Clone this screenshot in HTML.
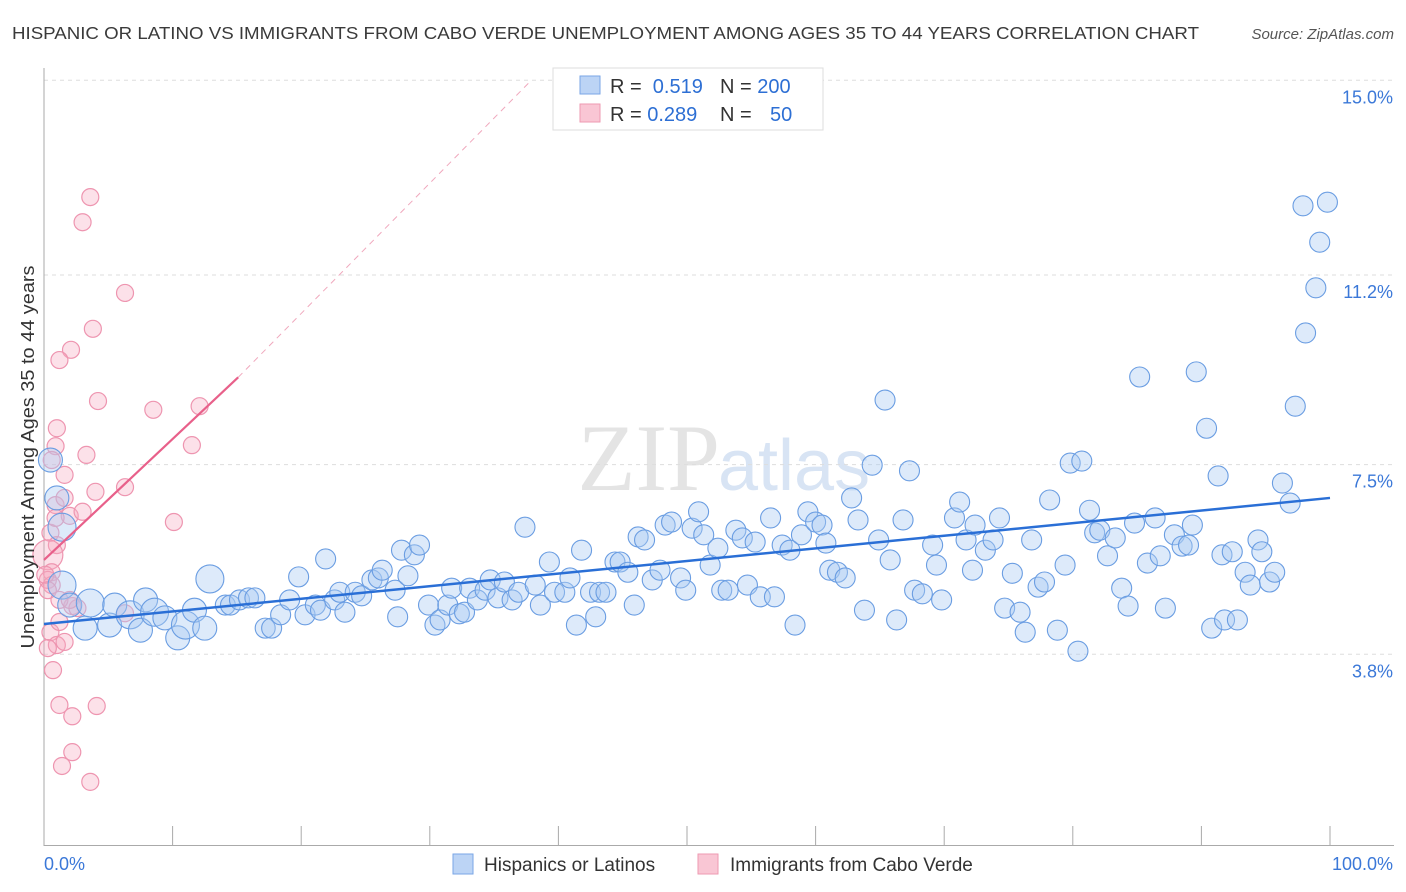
<!DOCTYPE html>
<html><head><meta charset="utf-8"><style>
body{margin:0;background:#fff;font-family:"Liberation Sans",sans-serif}
svg{display:block}
</style></head><body>
<svg id="c" width="1406" height="892">
<text x="12" y="39" font-size="17.5" fill="#3a3a3a" textLength="1187" lengthAdjust="spacingAndGlyphs">HISPANIC OR LATINO VS IMMIGRANTS FROM CABO VERDE UNEMPLOYMENT AMONG AGES 35 TO 44 YEARS CORRELATION CHART</text>
<text x="1394" y="39" font-size="15" fill="#555" font-style="italic" text-anchor="end">Source: ZipAtlas.com</text>
<text x="720" y="490" font-size="95" fill="#e4e4e4" text-anchor="end" font-family="Liberation Serif,serif">ZIP</text>
<text x="718" y="490" font-size="72" fill="#d8e4f4">atlas</text>
<g id="grid"></g><g id="pts"></g><g id="lines"></g>
<text transform="translate(34,457) rotate(-90)" font-size="18" fill="#333" text-anchor="middle" textLength="383" lengthAdjust="spacingAndGlyphs">Unemployment Among Ages 35 to 44 years</text>
<g>
<rect x="553" y="68" width="270" height="62" fill="#fff" stroke="#ddd"/>
<rect x="580" y="76" width="20" height="18" fill="#bcd4f5" stroke="#7aa6e6"/>
<rect x="580" y="104" width="20" height="18" fill="#f9c6d4" stroke="#ee9ab2"/>
<text x="610" y="93" font-size="20" fill="#333">R = <tspan fill="#2d6fd4">&#160;0.519</tspan><tspan x="720">N = </tspan><tspan fill="#2d6fd4">200</tspan></text>
<text x="610" y="121" font-size="20" fill="#333">R = <tspan fill="#2d6fd4">0.289</tspan><tspan x="720">N = </tspan><tspan fill="#2d6fd4" x="770">50</tspan></text>
</g>
<g>
<rect x="453" y="854" width="20" height="20" fill="#bcd4f5" stroke="#7aa6e6"/>
<text x="484" y="871" font-size="19" fill="#333">Hispanics or Latinos</text>
<rect x="698" y="854" width="20" height="20" fill="#f9c6d4" stroke="#ee9ab2"/>
<text x="730" y="871" font-size="19" fill="#333">Immigrants from Cabo Verde</text>
</g>
</svg>
<script>
const blueX=[1.4,0.5,1.0,1.4,2.0,3.2,3.6,5.1,5.5,6.7,7.5,7.9,8.6,9.4,10.4,11.0,11.7,12.5,12.9,14.1,14.5,15.2,15.9,16.4,17.2,17.7,18.4,19.1,19.8,20.3,21.1,21.5,21.9,22.6,23.0,23.4,24.2,24.7,25.5,26.0,26.3,27.3,27.5,28.3,27.8,28.8,29.2,29.9,30.4,30.8,31.4,31.7,32.3,32.7,33.1,33.7,34.3,34.7,35.3,35.8,36.4,36.9,37.4,38.2,38.6,39.3,39.7,40.5,40.9,41.4,41.8,42.5,42.9,43.2,43.7,44.4,44.8,45.4,45.9,46.2,46.7,47.3,47.9,48.3,48.8,49.5,49.9,50.4,50.9,51.3,51.8,52.4,52.7,53.2,53.8,54.3,54.7,55.3,55.7,56.5,56.8,57.4,58.0,58.4,58.9,59.4,60.0,60.5,60.8,61.1,61.7,62.3,62.8,63.3,63.8,64.4,64.9,65.4,65.8,66.3,66.8,67.3,67.7,68.3,69.1,69.4,69.8,70.8,71.2,71.7,72.2,72.4,73.2,73.8,74.3,74.7,75.3,75.9,76.3,76.8,77.3,77.8,78.2,78.8,79.4,79.8,80.4,80.7,81.3,81.7,82.1,82.7,83.3,83.8,84.3,84.8,85.2,85.8,86.4,86.8,87.2,87.9,88.5,89.0,89.3,89.6,90.4,90.8,91.3,91.6,91.8,92.4,92.8,93.4,93.8,94.4,94.7,95.3,95.7,96.3,96.9,97.3,98.1,98.9,99.2,97.9,99.8];
const blueY=[5.15,7.59,6.85,6.28,4.76,4.31,4.80,4.37,4.76,4.57,4.27,4.86,4.62,4.51,4.12,4.37,4.66,4.31,5.27,4.76,4.76,4.86,4.90,4.90,4.31,4.31,4.57,4.86,5.31,4.57,4.76,4.66,5.66,4.86,5.01,4.62,5.01,4.94,5.25,5.29,5.44,5.05,4.53,5.33,5.83,5.74,5.93,4.76,4.37,4.47,4.76,5.09,4.59,4.62,5.09,4.86,5.05,5.25,4.90,5.21,4.86,5.01,6.28,5.15,4.76,5.60,5.01,5.01,5.29,4.37,5.83,5.01,4.53,5.01,5.01,5.60,5.60,5.40,4.76,6.09,6.03,5.25,5.44,6.32,6.38,5.29,5.05,6.26,6.58,6.13,5.54,5.87,5.05,5.05,6.22,6.07,5.15,5.99,4.92,6.46,4.92,5.93,5.83,4.37,6.13,6.58,6.38,6.32,5.97,5.44,5.40,5.29,6.85,6.42,4.66,7.49,6.03,8.76,5.64,4.47,6.42,7.38,5.05,4.98,5.93,5.54,4.86,6.46,6.77,6.03,5.44,6.32,5.83,6.03,6.46,4.70,5.38,4.62,4.23,6.03,5.11,5.21,6.81,4.27,5.54,7.53,3.86,7.57,6.61,6.17,6.22,5.72,6.07,5.09,4.74,6.36,9.21,5.58,6.46,5.72,4.70,6.13,5.91,5.93,6.32,9.31,8.21,4.31,7.28,5.74,4.47,5.80,4.47,5.40,5.15,6.03,5.80,5.21,5.40,7.14,6.75,8.64,10.07,10.95,11.84,12.55,12.62];
const pinkX=[3.6,3.0,6.3,3.8,2.1,1.2,4.2,1.0,8.5,12.1,11.5,0.9,3.3,1.6,4.0,6.3,0.9,1.6,2.0,3.0,10.1,0.5,1.0,0.3,0.6,0.3,0.6,2.2,2.6,6.3,0.5,1.0,0.3,1.6,0.7,1.2,2.2,4.1,2.2,1.4,3.6,1.2,0.9,0.1,0.3,1.2,0.6,2.0];
const pinkY=[12.72,12.23,10.85,10.15,9.74,9.54,8.74,8.21,8.57,8.64,7.88,7.86,7.69,7.30,6.97,7.06,6.71,6.85,6.50,6.58,6.38,6.17,5.93,5.74,5.40,5.25,5.15,4.74,4.70,4.60,4.23,3.98,3.92,4.04,3.49,2.81,2.59,2.79,1.89,1.62,1.31,4.43,6.46,5.35,5.05,4.86,7.59,4.86];
const yTicks=[3.8,7.5,11.2,15.0];
const yTickLabels=["3.8%","7.5%","11.2%","15.0%"];
const xTicks=[0,10,20,30,40,50,60,70,80,90,100];
const blueTrend=[4.39,6.85];
const pinkTrend=[5.64,0.236];
const NS="http://www.w3.org/2000/svg";
const L=44,R=1330,B=849;
const sx=v=>L+(R-L)*v/100;
const sy=v=>B-v*51.25;
function mk(t,a,p){const e=document.createElementNS(NS,t);for(const k in a)e.setAttribute(k,a[k]);p.appendChild(e);return e;}
const g=document.getElementById('grid');
yTicks.forEach((t,i)=>{
 const ln=mk('line',{x1:L,x2:1394,y1:sy(t),y2:sy(t),stroke:'#ddd','stroke-dasharray':'4,4'},g);
 
 
 const tx=mk('text',{x:1393,y:sy(t)+23,'font-size':18,fill:'#3b78d8','text-anchor':'end'},g);
 tx.textContent=yTickLabels[i];
 
 
});
const ax=mk('line',{x1:L,x2:L,y1:68,y2:846,stroke:'#aaa'},g);


const bx=mk('line',{x1:L,x2:1394,y1:845.5,y2:845.5,stroke:'#aaa'},g);


xTicks.forEach(t=>{
 const tk=mk('line',{x1:sx(t),x2:sx(t),y1:826,y2:846,stroke:'#aaa'},g);
 
 
});
const x0=mk('text',{x:44,y:870,'font-size':18,fill:'#3b78d8'},g);x0.textContent='0.0%';


const x1=mk('text',{x:1393,y:870,'font-size':18,fill:'#3b78d8','text-anchor':'end'},g);x1.textContent='100.0%';


const p=document.getElementById('pts');
pinkX.forEach((x,i)=>{
 const c=mk('circle',{cx:sx(x),cy:sy(pinkY[i]),r:(i==23?15:8.5),fill:'rgba(246,170,192,0.35)',stroke:'#ee95b0','stroke-width':1.2},p);
 
 
});
blueX.forEach((x,i)=>{
 const r=x<14?(i%3==0?14:12):10;
 const c=mk('circle',{cx:sx(x),cy:sy(blueY[i]),r:r,fill:'rgba(170,202,242,0.4)',stroke:'#6a9de2','stroke-width':1.1},p);
 
 
});
const l=document.getElementById('lines');
const bl=mk('line',{x1:sx(0),y1:sy(blueTrend[0]),x2:sx(100),y2:sy(blueTrend[1]),stroke:'#2a6fd6','stroke-width':2.5},l);


const xe=15.1,xd=37.9;
const pl=mk('line',{x1:sx(0),y1:sy(pinkTrend[0]),x2:sx(xe),y2:sy(pinkTrend[0]+pinkTrend[1]*xe),stroke:'#e8608a','stroke-width':2.2},l);


const pd=mk('line',{x1:sx(xe),y1:sy(pinkTrend[0]+pinkTrend[1]*xe),x2:sx(xd),y2:sy(15.0),stroke:'#f0a8bd','stroke-width':1,'stroke-dasharray':'6,5'},l);


</script>
</body></html>
